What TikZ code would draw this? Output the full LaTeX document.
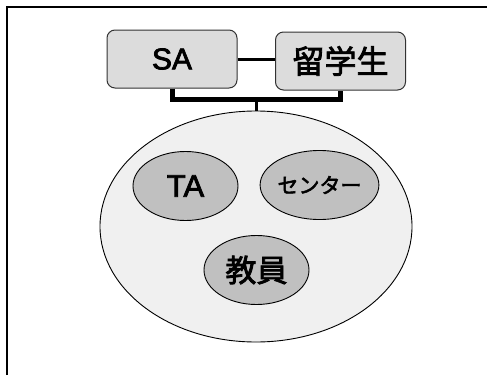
\documentclass[tikz,border=0pt]{standalone}
\usepackage{fontspec}
\setmainfont{Liberation Sans}[FakeBold=2.5]
\newfontfamily\latfont{Liberation Sans}[FakeBold=2.5]
\newfontfamily\jpfont{Noto Sans CJK JP}[FakeBold=2.5]
\usetikzlibrary{shapes.geometric}
\definecolor{boxfill}{HTML}{DCDCDC}
\definecolor{bigfill}{HTML}{F0F0F0}
\definecolor{smallfill}{HTML}{C0C0C0}
\begin{document}
\begin{tikzpicture}[x=1pt,y=-1pt,
  topbox/.style={draw=black!80,line width=1pt,fill=boxfill,rounded corners=8pt,
    minimum width=130pt,minimum height=58pt,inner sep=0pt},
  bigell/.style={ellipse,draw=black,line width=0.9pt,fill=bigfill,
    minimum width=312pt,minimum height=231pt,inner sep=0pt},
  smallell/.style={ellipse,draw=black,line width=0.9pt,fill=smallfill,
    minimum width=105pt,minimum height=69pt,inner sep=0pt},
  link/.style={draw=black,line width=3pt},
  bracket/.style={draw=black,line width=5pt}]
\useasboundingbox (0,0) rectangle (487,375);
\draw[line width=2pt] (7,375) -- (7,7) -- (487,7);
\node[topbox] (sa) at (172,59) {\latfont\fontsize{30}{32}\selectfont SA};
\node[topbox] (ryu) at (340.5,61) {\jpfont\fontsize{32}{34}\selectfont 留学生};
\node[bigell] (big) at (256,226.5) {};
\node[smallell] (ta) at (185.5,186) {\latfont\fontsize{31}{32}\selectfont TA};
\node[smallell] (ctr) at (319.5,185) {\jpfont\fontsize{21}{22}\selectfont センター};
\node[smallell] (kyo) at (256.5,270) {\jpfont\fontsize{31}{32}\selectfont 教員};
\draw[link] (sa.east) -- (ryu.west|-sa.east);
\coordinate (jn) at (256,99);
\draw[bracket] (sa.south) |- (jn) -| (ryu.south);
\draw[link] (jn) -- (big.north);
\end{tikzpicture}
\end{document}
